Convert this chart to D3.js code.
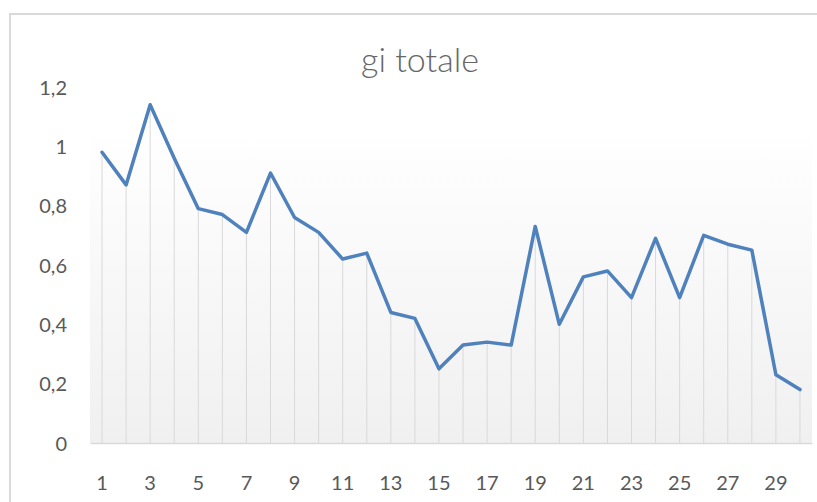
<!DOCTYPE html>
<html>
<head>
<meta charset="utf-8">
<script src="https://cdn.jsdelivr.net/npm/d3@7"></script>
<style>
  body { margin: 0; background: #fff; }
  svg { display: block; }
</style>
</head>
<body>
<div id="chart"></div>
<script>
// data
var categories = d3.range(1, 31);
var values = [0.98, 0.87, 1.14, 0.96, 0.79, 0.77, 0.71, 0.91, 0.76, 0.71,
              0.62, 0.64, 0.44, 0.42, 0.25, 0.33, 0.34, 0.33, 0.73, 0.40,
              0.56, 0.58, 0.49, 0.69, 0.49, 0.70, 0.67, 0.65, 0.23, 0.18];
var yTicks = [0, 0.2, 0.4, 0.6, 0.8, 1, 1.2];
var title = "gi totale";

var W = 817, H = 502;
var plot = { left: 90, right: 812, top: 87, bottom: 443 };

var svg = d3.select("#chart").append("svg")
    .attr("width", W)
    .attr("height", H);

// chart border (runs off the right and bottom of the window)
svg.append("rect")
    .attr("x", 10).attr("y", 14)
    .attr("width", W + 20).attr("height", H + 20)
    .attr("fill", "#fff")
    .attr("stroke", "#d9d9d9")
    .attr("stroke-width", 2);

var defs = svg.append("defs");
var grad = defs.append("linearGradient")
    .attr("id", "bg")
    .attr("x1", 0).attr("y1", 0).attr("x2", 0).attr("y2", 1);
grad.append("stop").attr("offset", "0%").attr("stop-color", "#ffffff");
grad.append("stop").attr("offset", "12%").attr("stop-color", "#ffffff");
grad.append("stop").attr("offset", "100%").attr("stop-color", "#f0f0f0");

var x = d3.scaleBand()
    .domain(categories)
    .range([plot.left, plot.right]);

var y = d3.scaleLinear()
    .domain([0, 1.2])
    .range([plot.bottom, plot.top]);

svg.append("rect")
    .attr("x", plot.left).attr("y", plot.top)
    .attr("width", plot.right - plot.left)
    .attr("height", plot.bottom - plot.top)
    .attr("fill", "url(#bg)");

// title
svg.append("text")
    .attr("x", 420).attr("y", 72)
    .attr("text-anchor", "middle")
    .attr("font-family", "Lato, sans-serif")
    .attr("font-weight", 300)
    .attr("font-size", 34)
    .attr("fill", "#666")
    .text(title);

var fmt = function (d) { return String(d).replace(".", ","); };

// y axis labels
var yAxis = d3.axisLeft(y)
    .tickValues(yTicks)
    .tickFormat(fmt)
    .tickSize(0)
    .tickPadding(0);
var gy = svg.append("g")
    .attr("transform", "translate(67,0)")
    .call(yAxis);
gy.select(".domain").remove();
gy.selectAll("text")
    .attr("font-family", "Lato, sans-serif")
    .attr("font-size", 20)
    .attr("fill", "#595959")
    .attr("dy", "0.36em");

// drop lines
var mid = function (d) { return x(d) + x.bandwidth() / 2; };
svg.append("g").selectAll("line")
    .data(categories)
    .enter().append("line")
    .attr("x1", mid).attr("x2", mid)
    .attr("y1", function (d, i) { return y(values[i]); })
    .attr("y2", plot.bottom)
    .attr("stroke", "#d9d9d9")
    .attr("stroke-width", 1);

// x axis
var xAxis = d3.axisBottom(x)
    .tickValues(categories.filter(function (d) { return d % 2 === 1; }))
    .tickSize(0)
    .tickPadding(0);
var gx = svg.append("g")
    .attr("transform", "translate(0," + plot.bottom + ")")
    .call(xAxis);
gx.select(".domain")
    .attr("stroke", "#d9d9d9")
    .attr("stroke-width", 1.5);
gx.selectAll("text")
    .attr("font-family", "Lato, sans-serif")
    .attr("font-size", 20)
    .attr("fill", "#595959")
    .attr("dy", 0)
    .attr("y", 47);

// series line
var line = d3.line()
    .x(function (d, i) { return mid(categories[i]); })
    .y(function (d) { return y(d); });
svg.append("path")
    .datum(values)
    .attr("d", line)
    .attr("fill", "none")
    .attr("stroke", "#4f81bd")
    .attr("stroke-width", 3.5)
    .attr("stroke-linejoin", "round")
    .attr("stroke-linecap", "round");
</script>
</body>
</html>
